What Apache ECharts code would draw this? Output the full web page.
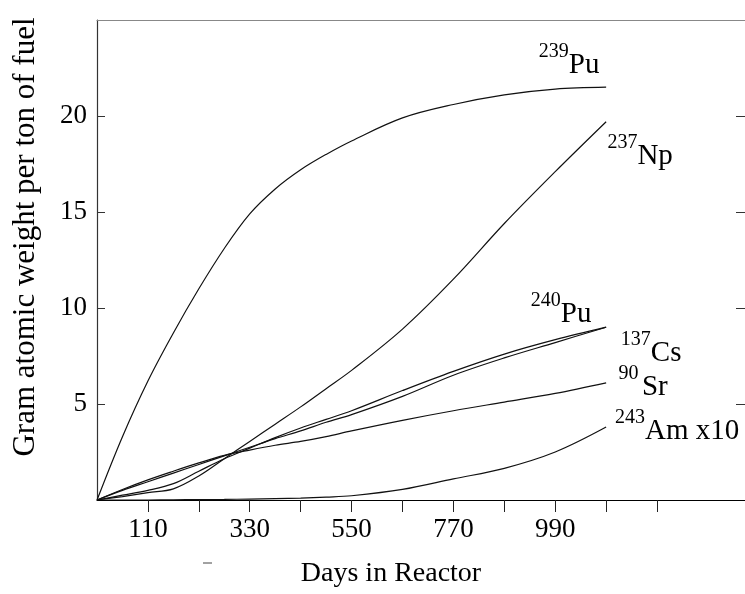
<!DOCTYPE html>
<html>
<head>
<meta charset="utf-8">
<script src="https://cdn.jsdelivr.net/npm/echarts@6/dist/echarts.min.js"></script>
<style>
  html, body { margin: 0; padding: 0; background: #fff; }
  #chartBox { width: 745px; height: 594px; }
</style>
</head>
<body>
<div id="chartBox"></div>
<script>
// days in reactor (x) and isotope amounts
const days   = [0, 55, 110, 165, 220, 275, 330, 385, 440, 495, 550, 660, 770, 880, 990, 1100];
const pu239  = [0, 3.3, 6.2, 8.7, 11.0, 13.1, 14.9, 16.2, 17.2, 18.0, 18.7, 19.9, 20.6, 21.1, 21.4, 21.5];
const np237  = [0, 0.18, 0.38, 0.58, 1.25, 2.15, 3.05, 3.95, 4.85, 5.8, 6.75, 8.9, 11.5, 14.4, 17.1, 19.7];
const pu240  = [0, 0.25, 0.5, 0.85, 1.5, 2.15, 2.7, 3.25, 3.75, 4.2, 4.65, 5.7, 6.7, 7.6, 8.35, 9.0];
const cs137  = [0, 0.5, 0.95, 1.4, 1.85, 2.3, 2.75, 3.2, 3.6, 4.05, 4.45, 5.4, 6.5, 7.4, 8.2, 9.0];
const sr90   = [0, 0.55, 1.05, 1.5, 1.93, 2.32, 2.6, 2.85, 3.05, 3.3, 3.6, 4.15, 4.65, 5.1, 5.55, 6.1];
const am243  = [0, 0, 0, 0.01, 0.02, 0.03, 0.05, 0.07, 0.1, 0.15, 0.22, 0.55, 1.1, 1.65, 2.5, 3.8];

const xTicks  = [110, 220, 330, 440, 550, 660, 770, 880, 990, 1100, 1210];
const xLabels = [110, 330, 550, 770, 990];
const yTicks  = [5, 10, 15, 20];

const font = 'Liberation Serif';

let myChart = echarts.init(document.getElementById('chartBox'));

const rich = {
  s: { fontSize: 20, fontFamily: font, color: '#000', verticalAlign: 'top', lineHeight: 38 },
  m: { fontSize: 29, fontFamily: font, color: '#000', verticalAlign: 'bottom', lineHeight: 38 }
};

function isotope (vals, text, offset) {
  const last = days.length - 1;
  return {
    type: 'line',
    data: days.map((d, i) => [d, vals[i]]),
    showSymbol: false,
    smooth: 0.35,
    lineStyle: { color: '#111', width: 1.2 },
    silent: true,
    markPoint: {
      symbol: 'circle',
      symbolSize: 0,
      silent: true,
      data: [{ coord: [days[last], vals[last]] }],
      label: {
        show: true,
        position: 'inside',
        offset: offset,
        formatter: text,
        rich: rich
      }
    }
  };
}

myChart.setOption({
  animation: false,
  grid: { left: 97, right: 0, top: 20, bottom: 94, outerBoundsMode: 'none' },
  xAxis: [{
    type: 'value',
    min: 0,
    max: 1400,
    position: 'bottom',
    axisLine: { onZero: false, lineStyle: { color: '#000', width: 1.2 } },
    axisTick: { customValues: xTicks, length: 12, lineStyle: { color: '#222' } },
    axisLabel: { customValues: xLabels, fontSize: 27, fontFamily: font, color: '#000', margin: 16 },
    splitLine: { show: false },
    name: 'Days in Reactor',
    nameLocation: 'middle',
    nameGap: 60,
    nameTextStyle: { fontSize: 28, fontFamily: font, color: '#000', padding: [0, 60, 0, 0] }
  }, {
    type: 'value',
    min: 0,
    max: 1400,
    position: 'top',
    axisLine: { onZero: false, lineStyle: { color: '#888', width: 1.2 } },
    axisTick: { show: false },
    axisLabel: { show: false },
    splitLine: { show: false }
  }],
  yAxis: [{
    type: 'value',
    min: 0,
    max: 25,
    position: 'left',
    axisLine: { show: true, onZero: false, lineStyle: { color: '#333', width: 1.2 } },
    axisTick: { show: true, customValues: yTicks, inside: true, length: 8, lineStyle: { color: '#333' } },
    axisLabel: { customValues: yTicks, fontSize: 27, fontFamily: font, color: '#000', margin: 10 },
    splitLine: { show: false },
    name: 'Gram atomic weight per ton of fuel',
    nameLocation: 'middle',
    nameGap: 56,
    nameTextStyle: { fontSize: 31, fontFamily: font, color: '#000', padding: [0, 0, 0, 46] }
  }, {
    type: 'value',
    min: 0,
    max: 25,
    position: 'right',
    axisLine: { show: true, onZero: false, lineStyle: { opacity: 0 } },
    axisTick: { show: true, customValues: yTicks, inside: true, length: 9, lineStyle: { color: '#333' } },
    axisLabel: { show: false },
    splitLine: { show: false }
  }],
  series: [
    isotope(pu239, '{s|239}{m|Pu}', [-37, -26]),
    isotope(np237, '{s|237}{m|Np}', [34, 30]),
    isotope(pu240, '{s|240}{m|Pu}', [-45, -17]),
    isotope(cs137, '{s|137}{m|Cs}', [45, 22]),
    isotope(sr90, '{s|90} {m|Sr}', [37, 0]),
    isotope(am243, '{s|243}{m|Am x10}', [71, 0])
  ],
  graphic: [{
    type: 'line',
    shape: { x1: 203, y1: 563, x2: 212, y2: 563 },
    style: { stroke: '#444', lineWidth: 1 }
  }]
});
</script>
</body>
</html>
